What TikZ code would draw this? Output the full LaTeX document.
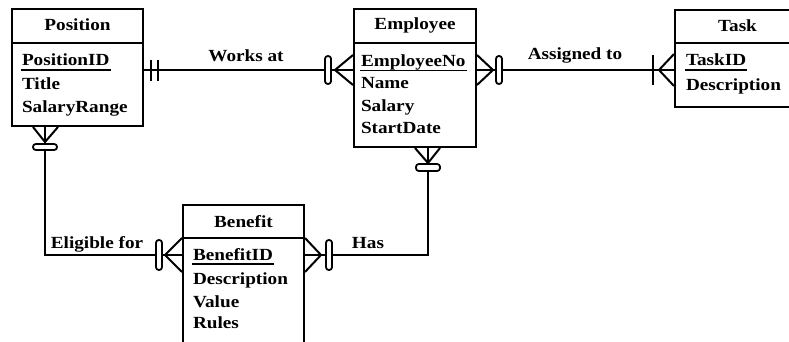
\documentclass[tikz,border=0pt]{standalone}
\usepackage{fontspec}
\setmainfont[FakeStretch=1.13]{Liberation Serif}
\usetikzlibrary{calc}
\begin{document}
\begin{tikzpicture}[x=1pt,y=-1pt,line width=2pt,
  every node/.style={font=\fontsize{17}{20}\selectfont\bfseries, inner sep=0pt},
  entity/.style={draw, rectangle, minimum width=#1},
  attr/.style={anchor=base west},
  head/.style={anchor=base},
  lbl/.style={anchor=base},
  ring/.style={draw, fill=white, rounded corners=2.8pt, line width=1.8pt},
  uline/.style={line width=1.8pt}]
\useasboundingbox (0,0) rectangle (789,342);
\fill[white] (0,0) rectangle (789,342);

% entity boxes
\node[entity=131, minimum height=117] (pos) at (77.5,67.5) {};
\node[entity=122, minimum height=138] (emp) at (415,78) {};
\node[entity=125, minimum height=97] (task) at (737.5,58.5) {};
\node[entity=121, minimum height=145] (ben) at (243.5,277.5) {};

% header separators
\draw (pos.west |- 0,43) -- (pos.east |- 0,43);
\draw (emp.west |- 0,43) -- (emp.east |- 0,43);
\draw (task.west |- 0,43) -- (task.east |- 0,43);
\draw (ben.west |- 0,238) -- (ben.east |- 0,238);

% Position
\node[head] (posh) at (77.5,31) {Position};
\node[attr] (pid) at (21,66) {PositionID};
\node[attr] (ptitle) at (21,90) {Title};
\node[attr] (psal) at (21,113) {SalaryRange};
\draw[uline] ([yshift=-4pt]pid.base west) -- ([yshift=-4pt]pid.base east);

% Employee
\node[head] (emph) at (415,30) {Employee};
\node[attr] (eno) at (360,67) {EmployeeNo};
\node[attr] (ename) at (360,89) {Name};
\node[attr] (esal) at (360,111) {Salary};
\node[attr] (estart) at (360,133) {StartDate};
\draw[uline] ([yshift=-3.5pt]eno.base west) -- ([yshift=-3.5pt]eno.base east);

% Task
\node[head] (taskh) at (737.5,32) {Task};
\node[attr] (tid) at (685,66) {TaskID};
\node[attr] (tdesc) at (685,91) {Description};
\draw[uline] ([yshift=-4pt]tid.base west) -- ([yshift=-4pt]tid.base east);

% Benefit
\node[head] (benh) at (243.5,227) {Benefit};
\node[attr] (bid) at (192,260) {BenefitID};
\node[attr] (bdesc) at (192,284) {Description};
\node[attr] (bval) at (192,307) {Value};
\node[attr] (brules) at (192,328) {Rules};
\draw[uline] ([yshift=-4pt]bid.base west) -- ([yshift=-4pt]bid.base east);

% connector end coordinates
\coordinate (waA) at (pos.east |- 0,70);
\coordinate (waB) at (emp.west |- 0,70);
\coordinate (atA) at (emp.east |- 0,70);
\coordinate (atB) at (task.west |- 0,70);
\coordinate (efA) at (pos.south -| 45,0);
\coordinate (efB) at (ben.west |- 0,255);
\coordinate (hsA) at (ben.east |- 0,255);
\coordinate (hsB) at (emp.south -| 428,0);

% Works at
\draw (waA) -- (waB);
\draw ($(waA)+(7,-10)$) -- ($(waA)+(7,11)$);
\draw ($(waA)+(14,-10)$) -- ($(waA)+(14,11)$);
\draw ($(waB)+(0,-15)$) -- ($(waB)+(-18,0)$) -- ($(waB)+(0,15)$);
\draw[ring] ($(waB)+(-28,-14)$) rectangle ($(waB)+(-22,14)$);
\node[lbl] (lwa) at (246,62) {Works at};

% Assigned to
\draw (atA) -- (atB);
\draw ($(atA)+(0,-15)$) -- ($(atA)+(16,0)$) -- ($(atA)+(0,15)$);
\draw[ring] ($(atA)+(19,-14)$) rectangle ($(atA)+(25,14)$);
\draw ($(atB)+(-21,-15)$) -- ($(atB)+(-21,15)$);
\draw ($(atB)+(0,-16)$) -- ($(atB)+(-15,0)$) -- ($(atB)+(0,16)$);
\node[lbl] (lat) at (575,60) {Assigned to};

% Eligible for
\draw (efA) |- (efB);
\draw ($(efA)+(-12,0)$) -- ($(efA)+(0,15)$) -- ($(efA)+(13,0)$);
\draw[ring] ($(efA)+(-12,17)$) rectangle ($(efA)+(12,23)$);
\draw ($(efB)+(0,-17)$) -- ($(efB)+(-17,0)$) -- ($(efB)+(0,17)$);
\draw[ring] ($(efB)+(-26,-15)$) rectangle ($(efB)+(-20,15)$);
\node[lbl] (lef) at (97,248) {Eligible for};

% Has
\draw (hsA) -| (hsB);
\draw ($(hsA)+(0,-17)$) -- ($(hsA)+(16,0)$) -- ($(hsA)+(0,17)$);
\draw[ring] ($(hsA)+(21,-15)$) rectangle ($(hsA)+(27,15)$);
\draw ($(hsB)+(-13,0)$) -- ($(hsB)+(0,15)$) -- ($(hsB)+(12,0)$);
\draw[ring] ($(hsB)+(-12,16)$) rectangle ($(hsB)+(12,23)$);
\node[lbl] (lhs) at (368,248) {Has};
\end{tikzpicture}
\end{document}
